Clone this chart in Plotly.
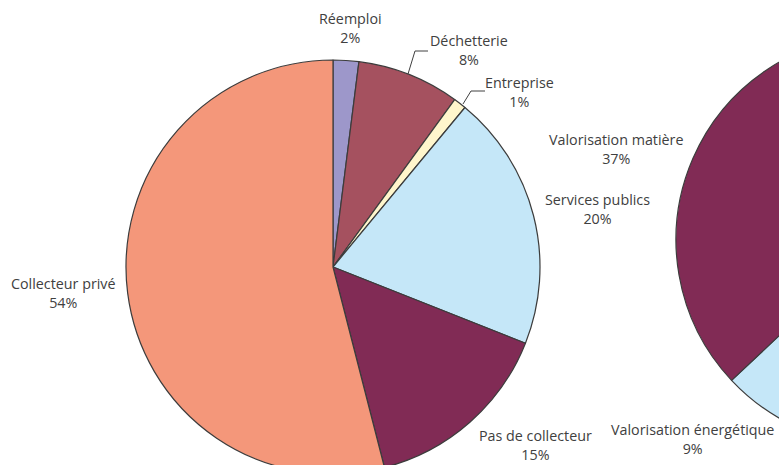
import plotly.graph_objects as go

# Collection channels (left pie), clockwise from 12 o'clock
collect_labels = ["Réemploi", "Déchetterie", "Entreprise", "Services publics",
                  "Pas de collecteur", "Collecteur privé"]
collect_values = [2, 8, 1, 20, 15, 54]
collect_colors = ["#9D97CA", "#A5515F", "#FFF6CC", "#C5E7F8", "#812B55", "#F4977A"]

# Treatment routes (right pie), clockwise from 12 o'clock
treat_labels = ["Élimination", "Valorisation énergétique", "Valorisation matière"]
treat_values = [54, 9, 37]
treat_colors = ["#F4977A", "#C5E7F8", "#812B55"]

# Canvas is wider/taller than the visible window; the right pie runs past the edge
W, H = 1100, 500
TXT = "#404040"
FONT = "Open Sans"
FSIZE = 14.3


def dom(cx, cy, r):
    return dict(x=[(cx - r) / W, (cx + r) / W], y=[(H - cy - r) / H, (H - cy + r) / H])


fig = go.Figure()
fig.add_trace(go.Pie(
    labels=collect_labels, values=collect_values, sort=False, direction="clockwise",
    rotation=0, textinfo="none", hoverinfo="label+percent",
    marker=dict(colors=collect_colors, line=dict(color="#3C3C3C", width=1.2)),
    domain=dom(333, 267, 207), showlegend=False,
))
fig.add_trace(go.Pie(
    labels=treat_labels, values=treat_values, sort=False, direction="clockwise",
    rotation=0, textinfo="none", hoverinfo="label+percent",
    marker=dict(colors=treat_colors, line=dict(color="#3C3C3C", width=1.2)),
    domain=dom(881, 240, 205), showlegend=False,
))

# Label anchor points (pixel space of the hidden helper axes)
collect_pos = [(350, 28), (469, 50), (519, 92), (597, 209), (535, 445), (63, 293)]
treat_pos = [(None, None), (692, 439), (616, 149)]

annotations = []
for lab, val, (x, y) in zip(collect_labels, collect_values, collect_pos):
    annotations.append(dict(x=x, y=y, xref="x", yref="y", text=f"{lab}<br>{val}%",
                            showarrow=False, align="center",
                            font=dict(family=FONT, size=FSIZE, color=TXT)))
for lab, val, (x, y) in zip(treat_labels, treat_values, treat_pos):
    if x is None:
        continue
    annotations.append(dict(x=x, y=y, xref="x", yref="y", text=f"{lab}<br>{val}%",
                            showarrow=False, align="center",
                            font=dict(family=FONT, size=FSIZE, color=TXT)))

# Leader lines for the two small slices
leaders = [
    [(408, 74), (415, 51), (428, 51)],
    [(463, 104), (471, 91), (485, 91)],
]
shapes = []
for pts in leaders:
    path = "M " + " L ".join(f"{x},{y}" for x, y in pts)
    shapes.append(dict(type="path", path=path, xref="x", yref="y",
                       line=dict(color="#404040", width=1)))

fig.update_layout(
    width=W, height=H,
    margin=dict(l=0, r=0, t=0, b=0),
    paper_bgcolor="white", plot_bgcolor="rgba(0,0,0,0)",
    xaxis=dict(range=[0, W], visible=False, fixedrange=True),
    yaxis=dict(range=[H, 0], visible=False, fixedrange=True),
    annotations=annotations, shapes=shapes,
)

fig.write_html(
    "out.html",
    post_script=("document.body.style.margin='0';"
                 "document.body.style.overflow='hidden';"
                 "document.documentElement.style.overflow='hidden';"),
)
